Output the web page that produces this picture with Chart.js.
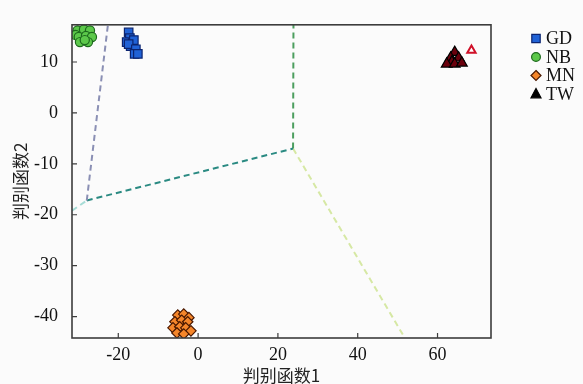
<!DOCTYPE html>
<html>
<head>
<meta charset="utf-8">
<script src="https://cdn.jsdelivr.net/npm/chart.js@4/dist/chart.umd.min.js"></script>
<style>
  html, body { margin: 0; padding: 0; background: #fbfbfb; }
  #wrap { width: 583px; height: 384px; position: relative; }
</style>
</head>
<body>
<div id="wrap"><canvas id="c" width="583" height="384"></canvas></div>
<script>
// ---- Data ----
const groupLabels = ['GD', 'NB', 'MN', 'TW'];

const gdX = [-17.4, -17.1, -17.9, -16.4, -16.9, -16.1, -17.4, -15.6, -15.9, -15.1];
const gdY = [15.8, 14.7, 13.9, 13.7, 13.1, 14.3, 13.5, 12.5, 11.6, 11.6];

const nbX = [-30.2, -28.6, -27.1, -30.7, -29.9, -28.1, -26.6, -29.6, -27.6, -28.4];
const nbY = [16.2, 16.4, 16.2, 15.3, 14.9, 15.1, 14.9, 13.9, 13.9, 14.3];

const mnX = [-5.1, -3.6, -2.3, -5.8, -4.1, -2.6, -6.3, -4.6, -3.1, -1.8, -5.3, -3.6];
const mnY = [-39.7, -39.5, -40.2, -41.0, -40.7, -41.0, -42.2, -42.0, -42.2, -42.8, -43.2, -43.4];

const twX = [64.3, 63.3, 65.3, 63.6, 62.3, 64.3, 66.1];
const twY = [11.9, 10.8, 10.8, 10.0, 9.6, 9.6, 9.8];
// one TW case drawn as an open triangle
const twOpenX = [68.5];
const twOpenY = [12.3];

// territorial-map boundary lines (vertices)
const lineGrayX = [-27.9, -22.6];   const lineGrayY = [-17.2, 17.3];
const lineCyanX = [-31.6, -27.9];   const lineCyanY = [-19.2, -17.2];
const lineTealX = [-27.9, 23.8];    const lineTealY = [-17.2, -7.0];
const lineGreenX = [23.8, 23.9];    const lineGreenY = [-7.0, 17.3];
const lineYellowX = [23.8, 51.8];   const lineYellowY = [-7.0, -44.2];

// axes
const xMin = -31.6, xMax = 73.4, xStep = 20;
const yMin = -44.2, yMax = 17.3, yStep = 10;
const xTitle = '判别函数1';
const yTitle = '判别函数2';

const pts = (xs, ys) => xs.map((x, i) => ({ x: x, y: ys[i] }));

const serif = '"Liberation Serif", "DejaVu Serif", serif';
const cjk = '"Noto Sans CJK SC", "Noto Sans", sans-serif';

const markerStyles = [
  { style: 'rect', radius: 6, fill: '#2062d6', stroke: '#0b2470' },
  { style: 'circle', radius: 4.6, fill: '#5cc84a', stroke: '#1d6a1d' },
  { style: 'rectRot', radius: 5.2, fill: '#f5862a', stroke: '#4a1800' },
  { style: 'triangle', radius: 6.2, fill: '#6a000c', stroke: '#000000' }
];

function lineSet(xs, ys, color) {
  return {
    type: 'scatter', label: '', data: pts(xs, ys), showLine: true,
    borderColor: color, borderWidth: 2, borderDash: [6, 4],
    pointRadius: 0, pointHoverRadius: 0, fill: false, order: 10
  };
}
function pointSet(label, xs, ys, m) {
  return {
    type: 'scatter', label: label, data: pts(xs, ys),
    pointStyle: m.style, pointRadius: m.radius, pointHoverRadius: m.radius,
    backgroundColor: m.fill, borderColor: m.stroke, borderWidth: 1.2, order: 1
  };
}

const frame = {
  id: 'frame',
  beforeDraw(chart) {
    const ctx = chart.ctx;
    ctx.save();
    ctx.fillStyle = '#fbfbfb';
    ctx.fillRect(0, 0, chart.width, chart.height);
    ctx.restore();
  },
  afterDraw(chart) {
    const ctx = chart.ctx, a = chart.chartArea;
    const xs = chart.scales.x, ys = chart.scales.y;
    ctx.save();
    ctx.strokeStyle = '#3c3c3c';
    ctx.lineWidth = 1.6;
    ctx.strokeRect(a.left, a.top, a.right - a.left, a.bottom - a.top);
    ctx.lineWidth = 1.2;
    ctx.beginPath();
    xs.ticks.forEach(t => {
      const p = xs.getPixelForValue(t.value);
      ctx.moveTo(p, a.bottom); ctx.lineTo(p, a.bottom - 5);
    });
    ys.ticks.forEach(t => {
      const p = ys.getPixelForValue(t.value);
      ctx.moveTo(a.left, p); ctx.lineTo(a.left + 5, p);
    });
    ctx.stroke();

    // legend
    const lx = 536, tx = 546, rows = [38.5, 57, 75.5, 94];
    ctx.font = '18px ' + serif;
    ctx.textBaseline = 'middle';
    ctx.textAlign = 'left';
    groupLabels.forEach((lab, i) => {
      const m = markerStyles[i];
      const y = rows[i];
      ctx.fillStyle = m.fill;
      ctx.strokeStyle = m.stroke;
      ctx.lineWidth = 1.2;
      ctx.beginPath();
      if (m.style === 'rect') {
        ctx.rect(lx - 4.2, y - 4.2, 8.4, 8.4);
      } else if (m.style === 'circle') {
        ctx.arc(lx, y, 4.4, 0, Math.PI * 2);
      } else if (m.style === 'rectRot') {
        ctx.moveTo(lx, y - 5); ctx.lineTo(lx + 5, y); ctx.lineTo(lx, y + 5); ctx.lineTo(lx - 5, y); ctx.closePath();
      } else {
        ctx.moveTo(lx, y - 5.5); ctx.lineTo(lx + 5, y + 3.8); ctx.lineTo(lx - 5, y + 3.8); ctx.closePath();
        ctx.fillStyle = '#000';
      }
      ctx.fill(); ctx.stroke();
      ctx.fillStyle = '#111';
      ctx.fillText(lab, tx, y + 1);
    });
    ctx.restore();
  }
};

new Chart(document.getElementById('c'), {
  type: 'scatter',
  data: {
    datasets: [
      pointSet(groupLabels[0], gdX, gdY, markerStyles[0]),
      pointSet(groupLabels[1], nbX, nbY, markerStyles[1]),
      pointSet(groupLabels[2], mnX, mnY, markerStyles[2]),
      pointSet(groupLabels[3], twX, twY, markerStyles[3]),
      {
        type: 'scatter', label: 'TW', data: pts(twOpenX, twOpenY),
        pointStyle: 'triangle', pointRadius: 4.8, backgroundColor: '#ffffff',
        borderColor: '#d01028', borderWidth: 2, order: 0
      },
      lineSet(lineGrayX, lineGrayY, '#8a8fb4'),
      lineSet(lineCyanX, lineCyanY, '#a6dcd6'),
      lineSet(lineTealX, lineTealY, '#2a8a82'),
      lineSet(lineGreenX, lineGreenY, '#4c9e5e'),
      lineSet(lineYellowX, lineYellowY, '#d6e8a4')
    ]
  },
  options: {
    responsive: false,
    animation: false,
    devicePixelRatio: 1,
    layout: { padding: { left: 0, right: 92, top: 22, bottom: 0 } },
    plugins: { legend: { display: false }, tooltip: { enabled: false } },
    scales: {
      x: {
        type: 'linear', min: xMin, max: xMax,
        grid: { display: false, drawTicks: false },
        border: { display: false },
        ticks: { stepSize: xStep, includeBounds: false, padding: 6, color: '#111', font: { family: serif, size: 18 } },
        title: { display: true, text: xTitle, color: '#222', padding: { top: 0, bottom: 0 }, font: { family: cjk, size: 17, lineHeight: 1.0 } },
        afterFit(s) { s.height = 46; }
      },
      y: {
        type: 'linear', min: yMin, max: yMax,
        grid: { display: false, drawTicks: false },
        border: { display: false },
        ticks: { stepSize: yStep, includeBounds: false, padding: 14, color: '#111', font: { family: serif, size: 18 } },
        title: { display: true, text: yTitle, color: '#222', padding: { top: 12, bottom: 0 }, font: { family: cjk, size: 17, lineHeight: 1.0 } },
        afterFit(s) { s.width = 72; }
      }
    }
  },
  plugins: [frame]
});
</script>
</body>
</html>
